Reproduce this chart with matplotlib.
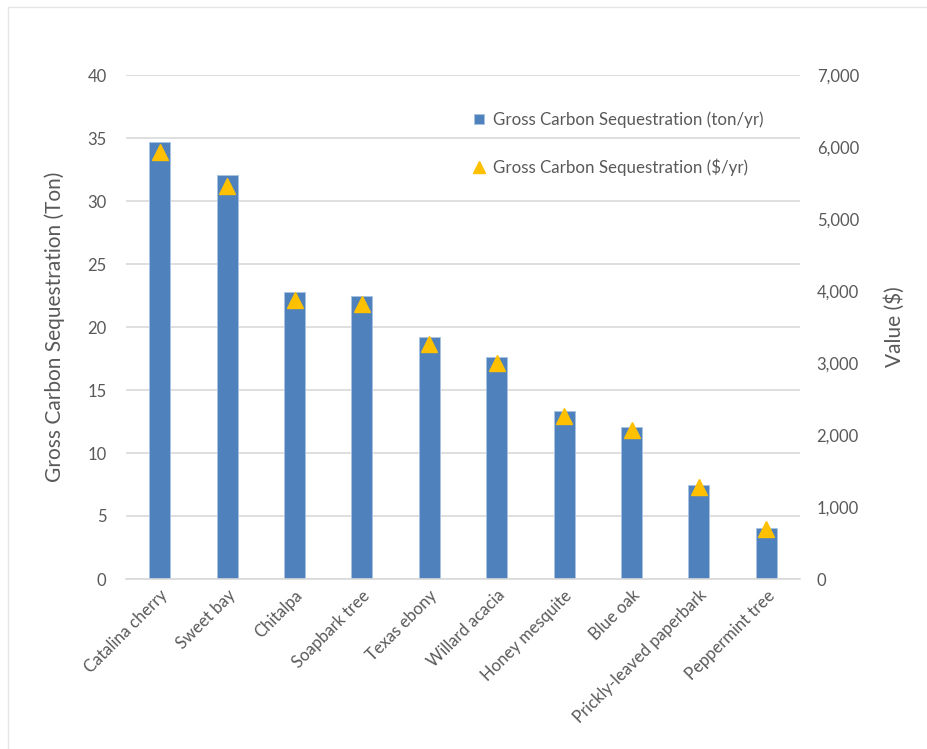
import numpy as np
import matplotlib.pyplot as plt
from matplotlib.patches import Rectangle
from matplotlib.ticker import FuncFormatter

plt.rcParams['font.family'] = ['Lato', 'DejaVu Sans']

trees = ['Catalina cherry', 'Sweet bay', 'Chitalpa', 'Soapbark tree', 'Texas ebony',
         'Willard acacia', 'Honey mesquite', 'Blue oak', 'Prickly-leaved paperbark',
         'Peppermint tree']
tons = [34.7, 32.1, 22.8, 22.5, 19.2, 17.6, 13.3, 12.1, 7.5, 4.05]
dollars = [5930, 5460, 3880, 3820, 3270, 3000, 2270, 2070, 1280, 690]

TXT = '#595959'
GRID = '#D9D9D9'

fig = plt.figure(figsize=(9.28, 7.49), dpi=100)
fig.patches.append(Rectangle((8 / 928, -0.1), 1.2, 1.1 - 7 / 749, transform=fig.transFigure,
                             fill=False, edgecolor='#E6E6E6', lw=1))
ax = fig.add_axes([126 / 928, 1 - 579 / 749, 674 / 928, 504 / 749])
x = np.arange(len(trees))
ax.bar(x, tons, width=0.31, color='#4F81BD', edgecolor='#A9C4E4', lw=0.6,
       label='Gross Carbon Sequestration (ton/yr)', zorder=2)
ax.set_ylim(0, 40)
ax.set_yticks(range(0, 41, 5))
ax.set_xlim(-0.5, len(trees) - 0.5)
ax.yaxis.grid(True, color=GRID, lw=1.2)
ax.set_axisbelow(True)
for s in ax.spines.values():
    s.set_visible(False)
ax.spines['bottom'].set_visible(True)
ax.spines['bottom'].set_color(GRID)
ax.spines['bottom'].set_linewidth(1.2)
ax.tick_params(axis='both', length=0, colors=TXT, labelsize=12)
ax.tick_params(axis='y', pad=14)
ax.tick_params(axis='x', pad=6)
ax.set_xticks(x)
ax.set_xticklabels(trees, rotation=45, ha='right', rotation_mode='anchor')
ax.set_ylabel('Gross Carbon Sequestration (Ton)', color=TXT, fontsize=15, labelpad=16)

ax2 = ax.twinx()
ax2.plot(x, dollars, linestyle='none', marker='^', ms=12, color='#FFC000',
         markeredgecolor='#FFC000', label='Gross Carbon Sequestration ($/yr)', zorder=3)
ax2.set_ylim(0, 7000)
ax2.set_yticks(range(0, 7001, 1000))
ax2.yaxis.set_major_formatter(FuncFormatter(lambda v, p: f'{int(v):,}'))
for s in ax2.spines.values():
    s.set_visible(False)
ax2.tick_params(axis='y', length=0, colors=TXT, labelsize=12, pad=12)
ax2.set_ylabel('Value ($)', color=TXT, fontsize=15, labelpad=18)

h1, l1 = ax.get_legend_handles_labels()
h2, l2 = ax2.get_legend_handles_labels()
ax2.legend(h1 + h2, l1 + l2, loc='upper left', bbox_to_anchor=(0.494, 0.958), frameon=False,
           labelspacing=1.8, handlelength=0.6, handleheight=0.6, handletextpad=0.5,
           fontsize=12.2, labelcolor=TXT, markerscale=0.75)

fig.savefig('out.png', dpi=100)
